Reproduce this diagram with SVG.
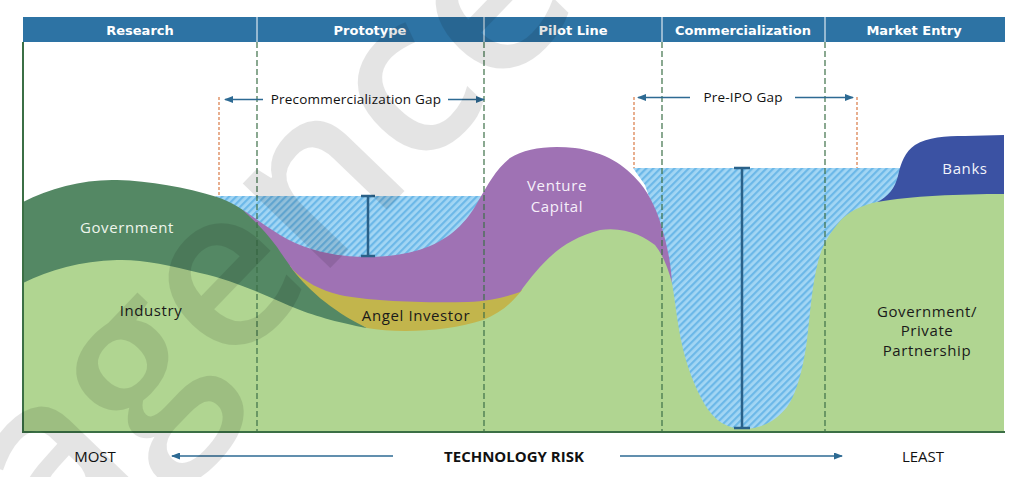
<svg xmlns="http://www.w3.org/2000/svg" width="1010" height="477" viewBox="0 0 1010 477">
<defs>
<pattern id="hatch" patternUnits="userSpaceOnUse" width="5" height="5" patternTransform="rotate(45)">
<rect width="5" height="5" fill="#a3d6f4"/>
<rect width="2.2" height="5" fill="#6cb8e8"/>
</pattern>
<marker id="ah" markerWidth="9" markerHeight="7" refX="8" refY="3.5" orient="auto" markerUnits="userSpaceOnUse">
<path d="M0,0 L9,3.5 L0,7 Z" fill="#2d6a93"/>
</marker>
</defs>
<style>
.hdr{font-family:"DejaVu Sans",Verdana,sans-serif;font-weight:bold;font-size:13px;fill:#fff;text-anchor:middle}
.lbl{font-family:"Open Sans","Noto Sans",sans-serif;font-size:15px;letter-spacing:0.6px;text-anchor:middle}
.gap{font-family:"Open Sans","Noto Sans",sans-serif;font-size:13.5px;fill:#111;text-anchor:middle;letter-spacing:0.2px}
.axis{font-family:"Open Sans","Noto Sans",sans-serif;font-size:15px;fill:#111;text-anchor:middle}
.phase{stroke:#3d7048;stroke-width:1.2;stroke-dasharray:6 3;fill:none}
.gapline{stroke:#d97a45;stroke-width:1.2;stroke-dasharray:3 2;fill:none}
.arr{stroke:#2d6a93;stroke-width:1.6;fill:none;marker-end:url(#ah)}
.ibar{stroke:#2a6189;stroke-width:2.5;fill:none}
</style>
<rect width="1010" height="477" fill="#ffffff"/>

<g id="industry">
<path d="M23,215 L823,215 L823,190 L1004,190 L1004,432 L23,432 Z" fill="#b0d591"/>
<text class="lbl" x="151" y="316" fill="#1a1a1a">Industry</text>
</g>

<g id="precommercialization-gap-area">
<path d="M215,196 L500,196 L500,240 C470,248 440,263 370,263 C320,263 290,256 262,234 L240,213 Z" fill="url(#hatch)"/>
</g>

<g id="pre-ipo-gap-area">
<path d="M633,168 L905,168 L905,195 L877,202 C862,205 848,212 840,221 C830,233 822,245 818,262 C812,285 810,315 807,340 C803,370 796,395 787,407 C775,422 760,429 743,429 C727,429 714,420 705,405 C695,388 686,365 681,340 C677,320 675,300 672,283 L662,235 L645,185 Z" fill="url(#hatch)"/>
</g>

<g id="government">
<path d="M23,202 C50,188 85,179 117,180 C150,181 185,187 217,197 C240,205 257,218 277,245 C300,280 330,305 367,328 C350,325 320,318 300,310 C270,298 240,282 200,273 C170,265 140,259 117,260 C80,261 50,270 23,283 Z" fill="#548864"/>
<text class="lbl" x="127" y="233" fill="#eef5ec">Government</text>
</g>

<g id="angel-investor">
<path d="M290,266 C305,287 330,310 367,328 C400,334 450,331 483,320 C500,313 512,303 522,290 L510,280 L300,268 Z" fill="#c2b54c"/>
<text class="lbl" x="416" y="321" fill="#1a1a1a">Angel Investor</text>
</g>

<g id="venture-capital">
<path d="M243,210 C252,219 265,230 277,247 C283,256 288,263 293,270 C305,282 320,290 340,295 C370,301 420,303 467,302 C490,301 505,297 520,292 C540,265 560,240 600,230 C625,226 645,237 655,245 C663,255 668,268 672,283 C671,265 668,250 664,235 C658,212 650,195 640,183 C625,165 605,152 575,148 C550,145 525,148 510,158 C495,170 488,185 480,198 C468,220 455,235 430,246 C410,254 390,257 367,257 C335,257 305,250 280,235 C265,226 255,218 243,210 Z" fill="#9f72b4"/>
<text class="lbl" x="557" y="191" fill="#f6effa">Venture</text>
<text class="lbl" x="557" y="212" fill="#f6effa">Capital</text>
</g>

<g id="banks">
<path d="M877,202 C888,197 895,188 898,176 C901,162 905,152 915,145 C928,137 945,136 965,136 L1004,135 L1004,194 C960,194 910,196 877,202 Z" fill="#3b52a3"/>
<text class="lbl" x="965" y="174" fill="#f2f4fb">Banks</text>
</g>

<g id="gov-private-partnership">
<text class="lbl" x="927" y="317" fill="#1a1a1a">Government/</text>
<text class="lbl" x="927" y="336" fill="#1a1a1a">Private</text>
<text class="lbl" x="927" y="356" fill="#1a1a1a">Partnership</text>
</g>

<g id="header">
<rect x="23" y="17" width="982" height="25" fill="#2d73a4"/>
<g stroke="#ffffff" stroke-width="1">
<line x1="257" y1="17" x2="257" y2="42"/>
<line x1="484" y1="17" x2="484" y2="42"/>
<line x1="662" y1="17" x2="662" y2="42"/>
<line x1="825" y1="17" x2="825" y2="42"/>
</g>
<text class="hdr" x="140" y="34.5">Research</text>
<text class="hdr" x="370" y="34.5">Prototype</text>
<text class="hdr" x="573" y="34.5">Pilot Line</text>
<text class="hdr" x="743" y="34.5">Commercialization</text>
<text class="hdr" x="914" y="34.5">Market Entry</text>
</g>

<g id="connectors">
<line class="phase" x1="257" y1="42" x2="257" y2="432"/>
<line class="phase" x1="484" y1="42" x2="484" y2="432"/>
<line class="phase" x1="662" y1="42" x2="662" y2="432"/>
<line class="phase" x1="825" y1="42" x2="825" y2="432"/>
<line class="gapline" x1="219" y1="97" x2="219" y2="196"/>
<line class="gapline" x1="634" y1="97" x2="634" y2="168"/>
<line class="gapline" x1="857" y1="97" x2="857" y2="168"/>
<line class="arr" x1="263" y1="99.5" x2="225" y2="99.5"/>
<line class="arr" x1="448" y1="99.5" x2="484" y2="99.5"/>
<line class="arr" x1="690" y1="97.5" x2="638" y2="97.5"/>
<line class="arr" x1="795" y1="97.5" x2="853" y2="97.5"/>
<line class="arr" x1="393" y1="456" x2="172" y2="456"/>
<line class="arr" x1="620" y1="456" x2="842" y2="456"/>
<path class="ibar" d="M368,196 V256 M361,196 H375 M361,256 H375"/>
<path class="ibar" d="M742,168 V428 M734,168 H750 M734,428 H750"/>
<path d="M23,42 V432 H1005" stroke="#3b6f45" stroke-width="2" fill="none"/>
</g>

<g id="labels">
<text class="gap" x="356" y="104">Precommercialization Gap</text>
<text class="gap" x="743" y="102">Pre-IPO Gap</text>
<text class="axis" x="95" y="462">MOST</text>
<text class="axis" x="514" y="462" font-weight="bold">TECHNOLOGY RISK</text>
<text class="axis" x="923" y="462">LEAST</text>
</g>

<g id="watermark" opacity="0.1">
<text x="262" y="305" transform="rotate(-46 262 228)" font-family="'Open Sans','Noto Sans',sans-serif" font-weight="600" font-size="225" fill="#000" text-anchor="middle">agence</text>
</g>
</svg>
